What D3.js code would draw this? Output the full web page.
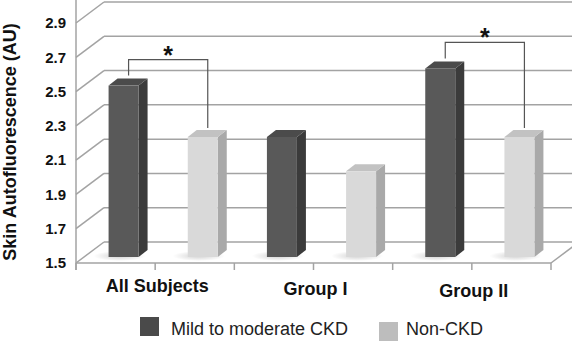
<!DOCTYPE html>
<html>
<head>
<meta charset="utf-8">
<script src="https://cdn.jsdelivr.net/npm/d3@7"></script>
<style>
  html, body { margin: 0; padding: 0; background: #fff; }
  svg { display: block; font-family: "Liberation Sans", Arial, sans-serif; }
</style>
</head>
<body>
<svg id="chart" width="572" height="342"></svg>
<script>
// ---- data ----
const categories = ["All Subjects", "Group I", "Group II"];
const seriesNames = ["Mild to moderate CKD", "Non-CKD"];
const ckdValues = [2.5, 2.2, 2.6];
const nonCkdValues = [2.2, 2.0, 2.2];
const yTickValues = [1.5, 1.7, 1.9, 2.1, 2.3, 2.5, 2.7, 2.9];
const significantCategories = ["All Subjects", "Group II"];
const significanceMark = "*";
const yAxisTitle = "Skin Autofluorescence (AU)";

// ---- layout ----
const svg = d3.select("#chart");
const W = 572, H = 342;
const axisX = 76, floorY = 263, topY = 23;
const plotRight = 551;
const DX = 28, DY = -21;            // full depth offset of back wall
const barOff = [8, -6];              // bar front-face depth offset
const barDepth = [9, -7];            // bar depth
const barW = 30;

const y = d3.scaleLinear().domain([1.5, 2.9]).range([floorY, topY]);
const x0 = d3.scaleBand().domain(categories).range([axisX, plotRight]).padding(0);
const x1 = d3.scaleBand().domain(seriesNames).range([0, x0.bandwidth()]).padding(0);

const gridColor = "#a3a3a3";

// back wall gridlines + left wall diagonals
const grid = svg.append("g");
yTickValues.forEach(v => {
  const yy = y(v);
  grid.append("line").attr("x1", axisX).attr("y1", yy).attr("x2", axisX + DX).attr("y2", yy + DY)
    .attr("stroke", gridColor).attr("stroke-width", 1.5);
  grid.append("line").attr("x1", axisX + DX).attr("y1", yy + DY).attr("x2", W + 5).attr("y2", yy + DY)
    .attr("stroke", gridColor).attr("stroke-width", 1.5);
});
// floor front line & right diagonal
grid.append("line").attr("x1", axisX).attr("y1", floorY).attr("x2", plotRight).attr("y2", floorY)
  .attr("stroke", gridColor).attr("stroke-width", 1.5);
grid.append("line").attr("x1", plotRight).attr("y1", floorY).attr("x2", plotRight + DX).attr("y2", floorY + DY)
  .attr("stroke", gridColor).attr("stroke-width", 1.5);
// vertical axis line
grid.append("line").attr("x1", axisX).attr("y1", 0).attr("x2", axisX).attr("y2", floorY + 7)
  .attr("stroke", gridColor).attr("stroke-width", 1.5);
// bottom ticks: category boundaries and centres
const tickXs = [];
categories.forEach(c => { tickXs.push(x0(c)); tickXs.push(x0(c) + x0.bandwidth() / 2); });
tickXs.push(plotRight);
tickXs.forEach(tx => {
  grid.append("line").attr("x1", tx).attr("y1", floorY).attr("x2", tx).attr("y2", floorY + 7)
    .attr("stroke", gridColor).attr("stroke-width", 1.5);
});

// y axis labels
const yAxis = d3.axisLeft(y).tickValues(yTickValues).tickFormat(d3.format(".1f")).tickSize(0).tickPadding(10);
const yg = svg.append("g").attr("transform", `translate(${axisX},0)`).call(yAxis);
yg.select(".domain").remove();
yg.selectAll("text").attr("font-size", 15).attr("font-weight", "bold").attr("fill", "#111")
  .attr("font-family", "Liberation Sans, Arial, sans-serif");

// y title
svg.append("text")
  .attr("transform", `translate(16,${142}) rotate(-90)`)
  .attr("text-anchor", "middle")
  .attr("font-size", 18).attr("font-weight", "bold").attr("fill", "#111")
  .text(yAxisTitle);

// category labels
categories.forEach((c, i) => {
  svg.append("text")
    .attr("x", x0(c) + x0.bandwidth() / 2 + 2)
    .attr("y", 292 + i * 2.5)
    .attr("text-anchor", "middle")
    .attr("font-size", 18).attr("font-weight", "bold").attr("fill", "#111")
    .text(c);
});

// bars
const styles = {
  "Mild to moderate CKD": { front: "#595959", side: "#3b3b3b", top: "#4b4b4b" },
  "Non-CKD": { front: "#d9d9d9", side: "#a9a9a9", top: "#c2c2c2" }
};
const bars = [];
categories.forEach((c, i) => {
  bars.push({ cat: c, series: seriesNames[0], value: ckdValues[i] });
  bars.push({ cat: c, series: seriesNames[1], value: nonCkdValues[i] });
});
const defs = svg.append("defs");
const shadow = defs.append("radialGradient").attr("id", "shadow");
shadow.append("stop").attr("offset", "0%").attr("stop-color", "#000").attr("stop-opacity", 0.18);
shadow.append("stop").attr("offset", "100%").attr("stop-color", "#000").attr("stop-opacity", 0);

const barG = svg.append("g");
function barGeom(b) {
  const fx = x0(b.cat) + x1(b.series) + x1.bandwidth() / 2 - barW / 2 + barOff[0];
  const fyTop = y(b.value) + barOff[1];
  const fyBot = y(1.5) + barOff[1];
  return { fx, fyTop, fyBot };
}
bars.forEach(b => {
  const { fx, fyTop, fyBot } = barGeom(b);
  const st = styles[b.series];
  const [ddx, ddy] = barDepth;
  barG.append("ellipse").attr("cx", fx + barW / 2 - 4).attr("cy", fyBot - 1)
    .attr("rx", 26).attr("ry", 5).attr("fill", "url(#shadow)");
  barG.append("polygon")
    .attr("points", [[fx + barW, fyTop], [fx + barW + ddx, fyTop + ddy], [fx + barW + ddx, fyBot + ddy], [fx + barW, fyBot]].join(" "))
    .attr("fill", st.side);
  barG.append("polygon")
    .attr("points", [[fx, fyTop], [fx + ddx, fyTop + ddy], [fx + barW + ddx, fyTop + ddy], [fx + barW, fyTop]].join(" "))
    .attr("fill", st.top);
  barG.append("rect").attr("x", fx).attr("y", fyTop).attr("width", barW).attr("height", fyBot - fyTop)
    .attr("fill", st.front);
});

// significance brackets
const sigG = svg.append("g");
significantCategories.forEach(c => {
  const i = categories.indexOf(c);
  const a = barGeom({ cat: c, series: seriesNames[0], value: ckdValues[i] });
  const b = barGeom({ cat: c, series: seriesNames[1], value: nonCkdValues[i] });
  const xl = a.fx + barW / 2 + 5, xr = b.fx + barW / 2 + 5;
  const top = Math.min(a.fyTop, b.fyTop) - 26;
  sigG.append("path")
    .attr("d", `M${xl},${a.fyTop - 10}V${top}H${xr}V${b.fyTop - 9}`)
    .attr("fill", "none").attr("stroke", "#555").attr("stroke-width", 1.2);
  sigG.append("text").attr("x", (xl + xr) / 2).attr("y", top + 4)
    .attr("text-anchor", "middle").attr("font-size", 25).attr("font-weight", "bold").attr("fill", "#111")
    .text(significanceMark);
});

// legend
const legendItems = [
  { name: seriesNames[0], color: "#4a4a4a", sx: 140, sy: 317, tx: 171 },
  { name: seriesNames[1], color: "#bdbdbd", sx: 379, sy: 322, tx: 406 }
];
legendItems.forEach(it => {
  svg.append("rect").attr("x", it.sx).attr("y", it.sy).attr("width", 19).attr("height", 19).attr("fill", it.color);
  svg.append("text").attr("x", it.tx).attr("y", 335).attr("font-size", 18).attr("fill", "#222").text(it.name);
});
</script>
</body>
</html>
